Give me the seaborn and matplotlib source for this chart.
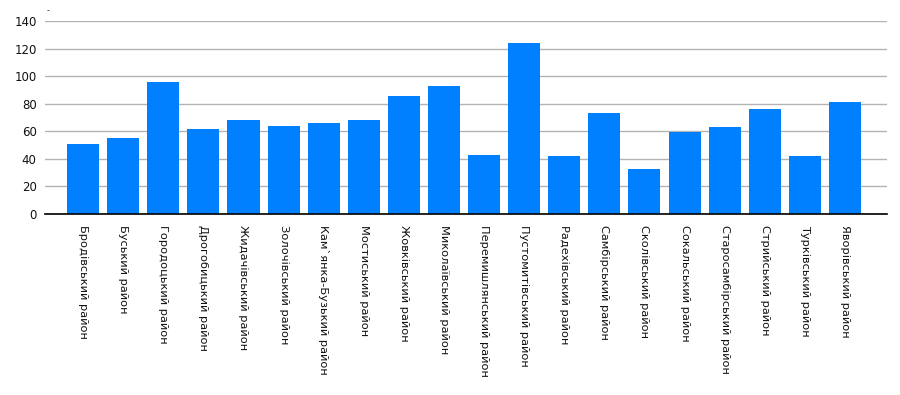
import numpy as np
import pandas as pd
import seaborn as sns
import matplotlib.pyplot as plt

districts = ["Бродівський район", "Буський район", "Городоцький район",
             "Дрогобицький район", "Жидачівський район", "Золочівський район",
             "Кам`янка-Бузький район", "Мостиський район", "Жовківський район",
             "Миколаївський район", "Перемишлянський район",
             "Пустомитівський район", "Радехівський район",
             "Самбірський район", "Сколівський район", "Сокальський район",
             "Старосамбірський район", "Стрийський район",
             "Турківський район", "Яворівський район"]
values = [51, 55, 95.5, 62, 68.5, 63.5, 66, 68, 85.5, 93, 42.5, 124, 42, 73,
          32.5, 59.5, 63, 76.5, 42, 81]
y_ticks = [0, 20, 40, 60, 80, 100, 120, 140]

sns.set_style("white")
plt.rcParams['font.family'] = ['DejaVu Sans']

df = pd.DataFrame({"district": districts, "value": values})

fig = plt.figure(figsize=(9, 3.95), dpi=100)
ax = fig.add_axes([0.05, 0.4582, 0.9356, 0.4886])
sns.barplot(data=df, x="district", y="value", color="#007FFF",
            saturation=1, width=0.8, linewidth=0, ax=ax, zorder=2)

ax.set_ylim(0, 140)
ax.set_xlim(-0.95, 20.05)
ax.set_yticks(y_ticks)
ax.set_yticklabels([str(t) for t in y_ticks], fontsize=8.5, color="#111111")
ax.yaxis.grid(True, color="#B4B4B4", linewidth=1, zorder=0)
ax.set_axisbelow(True)
for side in ["top", "right", "left"]:
    ax.spines[side].set_visible(False)
ax.spines["bottom"].set_color("black")
ax.spines["bottom"].set_linewidth(1.2)
ax.tick_params(axis="y", length=4, color="#B4B4B4", pad=2, width=1)
ax.tick_params(axis="x", length=0, pad=8)
ax.set_xticks(range(len(districts)))
ax.set_xticklabels(districts, rotation=270, ha="center", va="top",
                   fontsize=8.2, color="#111111")
ax.set_xlabel("")
ax.set_ylabel("")

fig.text(0.052, 0.972, "-", fontsize=6, color="#333333", va="center")

plt.savefig("out.png", dpi=100)
